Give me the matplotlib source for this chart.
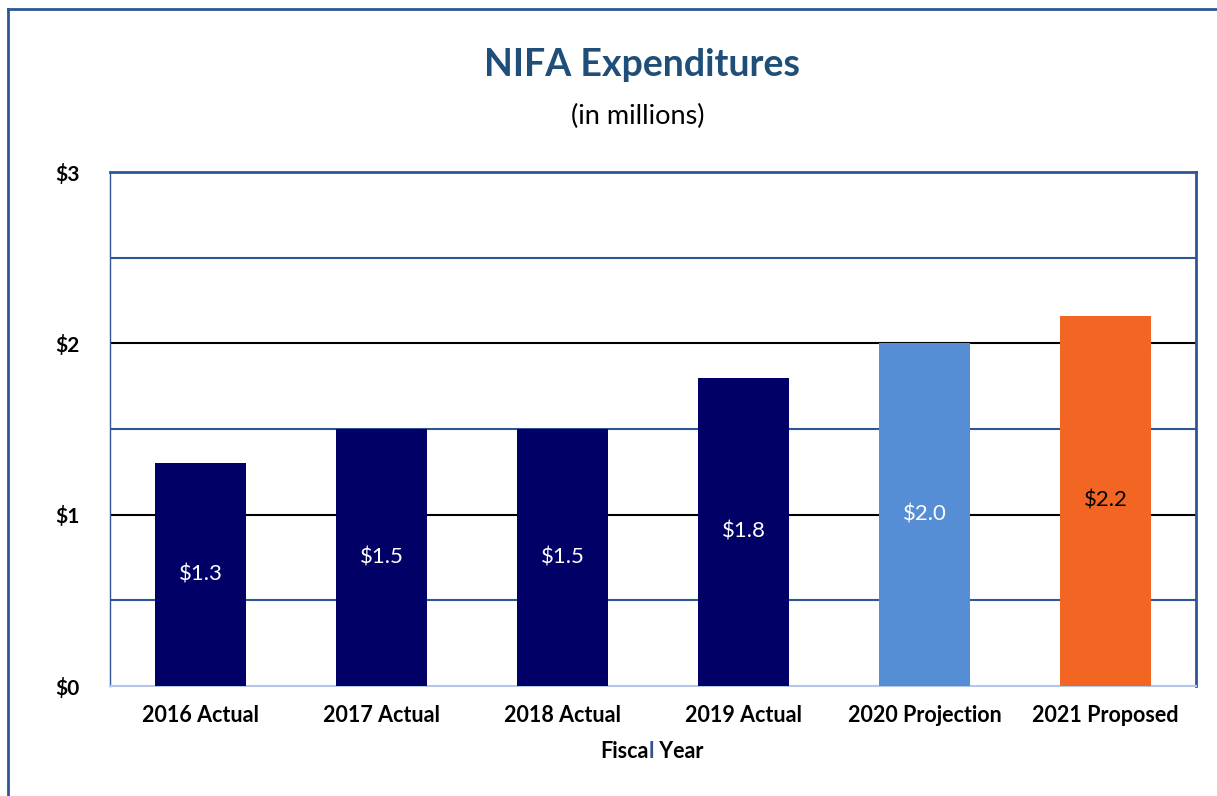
import numpy as np
import matplotlib
matplotlib.use("Agg")
import matplotlib.pyplot as plt
from matplotlib.lines import Line2D

plt.rcParams['font.family'] = ['Lato', 'DejaVu Sans']

# data
years = ["2016 Actual", "2017 Actual", "2018 Actual", "2019 Actual",
         "2020 Projection", "2021 Proposed"]
spend = [1.3, 1.5, 1.5, 1.8, 2.0, 2.16]
labels = ["$1.3", "$1.5", "$1.5", "$1.8", "$2.0", "$2.2"]
bar_colors = ["#000066", "#000066", "#000066", "#000066", "#558ED5", "#F26522"]
label_colors = ["white", "white", "white", "white", "white", "black"]
yticks = [0, 1, 2, 3]
ytick_labels = ["$0", "$1", "$2", "$3"]

blue = "#2F5597"

fig = plt.figure(figsize=(12.17, 7.96), dpi=100)
ax = fig.add_axes([110/1217, 1 - 686/796, 1086/1217, 514/796])

# outer chart frame (left and top edges are visible)
fig.add_artist(Line2D([8/1217, 8/1217], [0, 1 - 9/796], transform=fig.transFigure,
                      color=blue, lw=2))
fig.add_artist(Line2D([8/1217, 1], [1 - 9/796, 1 - 9/796], transform=fig.transFigure,
                      color=blue, lw=2))

x = np.arange(len(years))

# gridlines: half steps in blue, whole steps in black
for g in [0.5, 1.5, 2.5]:
    ax.axhline(g, color=blue, lw=1.5, zorder=1)
for g in [1, 2]:
    ax.axhline(g, color="black", lw=1.5, zorder=1)

ax.bar(x, spend, width=0.5, color=bar_colors, zorder=3)

for xi, v, t, c in zip(x, spend, labels, label_colors):
    ax.text(xi, v / 2, t, ha="center", va="center", color=c, fontsize=16, zorder=4)

ax.set_xlim(-0.5, len(years) - 0.5)
ax.set_ylim(0, 3)
ax.set_yticks(yticks)
ax.set_yticklabels(ytick_labels, fontsize=15, fontweight="bold")
ax.set_xticks(x)
ax.set_xticklabels(years, fontsize=15.5, fontweight="bold")
ax.tick_params(length=0)
ax.tick_params(axis="y", pad=22)
ax.tick_params(axis="x", pad=14)

for s in ["top", "right"]:
    ax.spines[s].set_color(blue)
    ax.spines[s].set_linewidth(2)
ax.spines["left"].set_color(blue)
ax.spines["left"].set_linewidth(1)
ax.spines["bottom"].set_color("#B4C7E7")
ax.spines["bottom"].set_linewidth(1.5)

# titles
fig.text(642/1217, 1 - 65/796, "NIFA Expenditures", ha="center", va="center",
         fontsize=27, fontweight="bold", color="#1F4E79")
fig.text(638/1217, 1 - 116/796, "(in millions)", ha="center", va="center",
         fontsize=19.5, color="black")

# axis title, the "l" is blue in the original
t1 = fig.text(600/1217, 1 - 752/796, "Fisca", ha="left", va="center",
              fontsize=15.5, fontweight="bold", color="black")
t2 = ax.annotate("l", xy=(1, 0), xycoords=t1, va="bottom", ha="left",
                 fontsize=15.5, fontweight="bold", color=blue)
ax.annotate(" Year", xy=(1, 0), xycoords=t2, va="bottom", ha="left",
            fontsize=15.5, fontweight="bold", color="black")

fig.savefig("out.png", dpi=100)
